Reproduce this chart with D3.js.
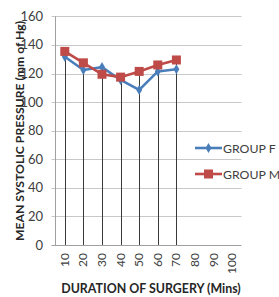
<!DOCTYPE html>
<html><head><meta charset="utf-8">
<script src="https://cdn.jsdelivr.net/npm/d3@7"></script>
<style>body{margin:0;background:#fff}svg{display:block}</style>
</head><body>
<svg id="c" width="279" height="297"></svg>
<script>
const categories = ["10","20","30","40","50","60","70","80","90","100"];
const groupF = [131.8, 122.5, 124.5, 115.5, 108.5, 121.5, 123];
const groupM = [135.5, 127.5, 119.5, 117.5, 121.5, 126, 129.5];
const yTicks = [0,20,40,60,80,100,120,140,160];
const seriesNames = ["GROUP F","GROUP M"];
const colors = ["#4a7ebb","#be4b48"];

(function(){
const svg = d3.select("#c");
const font = "Lato, 'Open Sans', sans-serif";
const pLeft = 55.5, pRight = 241.5, pTop = 16.4, pBottom = 245;

const x = d3.scaleBand().domain(categories).range([pLeft, pRight]);
const y = d3.scaleLinear().domain([0,160]).range([pBottom, pTop]);

// gridlines
svg.append("g").selectAll("line").data(yTicks).join("line")
  .attr("x1", pLeft-4).attr("x2", pRight)
  .attr("y1", d=>Math.round(y(d))+0.5).attr("y2", d=>Math.round(y(d))+0.5)
  .attr("stroke", d=> d===0 ? "#a0a0a0" : "#c8c8c8").attr("stroke-width",1);

// y axis line
svg.append("line").attr("x1", pLeft).attr("x2", pLeft).attr("y1", pTop).attr("y2", pBottom)
  .attr("stroke","#a0a0a0");

// y tick labels
svg.append("g").selectAll("text").data(yTicks).join("text")
  .attr("x", 43).attr("y", d=>y(d)+4.5).attr("text-anchor","end")
  .attr("font-family", font).attr("font-size", 13).attr("fill","#404040")
  .text(d=>d);

// x tick labels rotated
svg.append("g").selectAll("text").data(categories).join("text")
  .attr("transform", d=>`translate(${x(d)+x.bandwidth()/2+4},${pBottom+8}) rotate(-90)`)
  .attr("text-anchor","end")
  .attr("font-family", font).attr("font-size", 12).attr("fill","#404040")
  .text(d=>d);

// drop lines
const maxVals = groupF.map((v,i)=>Math.max(v, groupM[i]));
svg.append("g").selectAll("line").data(maxVals).join("line")
  .attr("x1",(d,i)=>Math.round(x(categories[i])+x.bandwidth()/2)+0.5)
  .attr("x2",(d,i)=>Math.round(x(categories[i])+x.bandwidth()/2)+0.5)
  .attr("y1", d=>y(d)).attr("y2", pBottom)
  .attr("stroke","#3a3a3a").attr("stroke-width",1);

const cx = i => x(categories[i]) + x.bandwidth()/2;
const line = d3.line().x((d,i)=>cx(i)).y(d=>y(d));

// Group F
svg.append("path").datum(groupF).attr("d", line).attr("fill","none")
  .attr("stroke", colors[0]).attr("stroke-width", 2.6);
svg.append("g").selectAll("path").data(groupF).join("path")
  .attr("d", d3.symbol(d3.symbolDiamond, 30)())
  .attr("transform",(d,i)=>`translate(${cx(i)},${y(d)})`)
  .attr("fill", colors[0]);

// Group M
svg.append("path").datum(groupM).attr("d", line).attr("fill","none")
  .attr("stroke", colors[1]).attr("stroke-width", 2.6);
svg.append("g").selectAll("rect").data(groupM).join("rect")
  .attr("x",(d,i)=>cx(i)-4.5).attr("y", d=>y(d)-4.5)
  .attr("width",9).attr("height",9).attr("fill", colors[1]);

// Y axis title
svg.append("text")
  .attr("transform", `translate(23.5,${(12+250)/2}) rotate(-90)`)
  .attr("text-anchor","middle")
  .attr("font-family", font).attr("font-weight","bold").attr("font-size", 12.2)
  .attr("fill","#262626")
  .text("MEAN SYSTOLIC PRESSURE (mm of Hg)");

// X axis title
svg.append("text")
  .attr("x", 151).attr("y", 293).attr("text-anchor","middle")
  .attr("font-family", font).attr("font-weight","bold").attr("font-size", 12.4)
  .attr("fill","#262626")
  .text("DURATION OF SURGERY (Mins)");

// legend
const legY = [148, 174];
seriesNames.forEach((name,i)=>{
  const g = svg.append("g");
  g.append("line").attr("x1",195).attr("x2",222).attr("y1",legY[i]).attr("y2",legY[i])
    .attr("stroke", colors[i]).attr("stroke-width",2.6);
  if(i===0){
    g.append("path").attr("d", d3.symbol(d3.symbolDiamond, 30)())
      .attr("transform",`translate(208.5,${legY[i]})`).attr("fill", colors[0]);
  } else {
    g.append("rect").attr("x",204).attr("y",legY[i]-4.5).attr("width",9).attr("height",9)
      .attr("fill", colors[1]);
  }
  g.append("text").attr("x",223).attr("y",legY[i]+4.5)
    .attr("font-family", font).attr("font-size", 12.3).attr("fill","#404040")
    .text(name);
});
})();
</script>
</body></html>
